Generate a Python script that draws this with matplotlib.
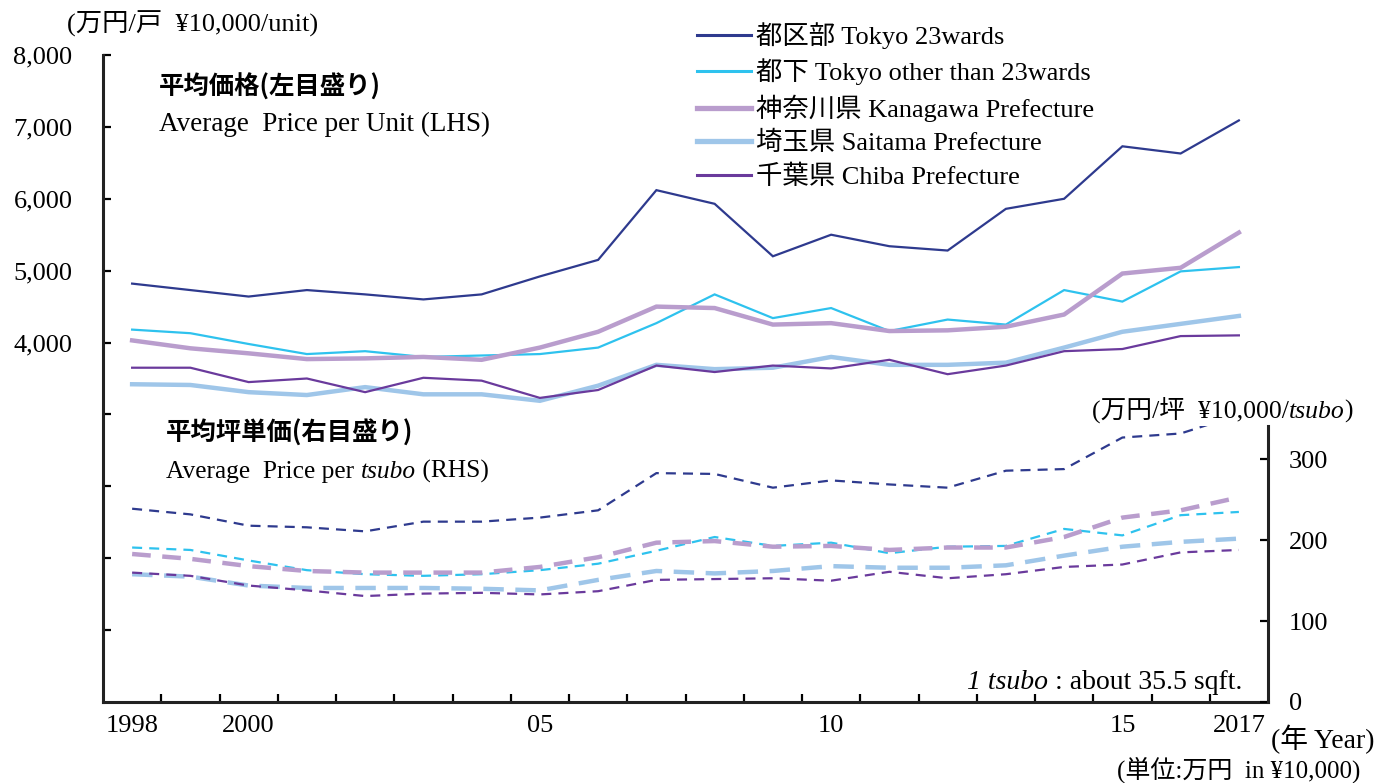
import matplotlib
matplotlib.use("Agg")
import matplotlib.pyplot as plt
import numpy as np
from matplotlib.patches import Rectangle
from matplotlib.lines import Line2D

plt.rcParams["font.family"] = ["Liberation Serif", "Noto Sans CJK JP"]

# ---- data -------------------------------------------------------------
years = list(range(1998, 2018))
shown_year_labels = {1998: "1998", 2000: "2000", 2005: "05", 2010: "10", 2015: "15", 2017: "2017"}

region_labels = [
    "都区部 Tokyo 23wards",
    "都下 Tokyo other than 23wards",
    "神奈川県 Kanagawa Prefecture",
    "埼玉県 Saitama Prefecture",
    "千葉県 Chiba Prefecture",
]

# average price per unit (万円/戸)
unit_tokyo23 = [4820, 4730, 4640, 4730, 4670, 4600, 4670, 4920, 5150, 6120,
                5930, 5200, 5500, 5340, 5280, 5860, 6000, 6730, 6630, 7090]
unit_tokyo_other = [4180, 4130, 3980, 3840, 3880, 3800, 3820, 3840, 3930, 4270,
                    4670, 4340, 4480, 4160, 4320, 4250, 4730, 4570, 4990, 5050]
unit_kanagawa = [4030, 3920, 3850, 3770, 3780, 3800, 3760, 3930, 4150, 4500,
                 4480, 4250, 4270, 4160, 4170, 4220, 4390, 4960, 5040, 5530]
unit_saitama = [3420, 3410, 3310, 3270, 3380, 3280, 3280, 3190, 3400, 3690,
                3630, 3650, 3800, 3690, 3690, 3720, 3930, 4150, 4260, 4370]
unit_chiba = [3650, 3650, 3450, 3500, 3310, 3510, 3470, 3230, 3340, 3680,
              3590, 3680, 3640, 3760, 3560, 3680, 3880, 3910, 4090, 4100]

# average price per tsubo (万円/坪)
tsubo_tokyo23 = [239, 232, 218, 216, 211, 223, 223, 228, 237, 283,
                 282, 265, 274, 269, 265, 286, 288, 327, 332, 355]
tsubo_tokyo_other = [191, 188, 175, 163, 158, 156, 158, 163, 171, 187,
                     204, 193, 197, 184, 192, 193, 214, 206, 231, 235]
tsubo_kanagawa = [183, 177, 168, 162, 160, 160, 160, 167, 179, 197,
                  199, 192, 193, 188, 191, 191, 204, 228, 237, 253]
tsubo_saitama = [158, 155, 144, 141, 141, 141, 140, 138, 151, 162,
                 159, 162, 168, 166, 166, 169, 181, 192, 198, 202]
tsubo_chiba = [160, 156, 144, 138, 131, 134, 135, 133, 137, 151,
               152, 153, 150, 161, 153, 158, 167, 170, 185, 188]

left_ticks = [0, 1000, 2000, 3000, 4000, 5000, 6000, 7000, 8000]
left_tick_labels = ["", "", "", "", "4,000", "5,000", "6,000", "7,000", "8,000"]
right_ticks = [0, 100, 200, 300]
right_tick_labels = ["0", "100", "200", "300"]

# ---- styling ----------------------------------------------------------
colors = ["#2E3A8E", "#2EC2EE", "#B99DCD", "#9FC6E9", "#6A3A9C"]
solid_widths = [1.6, 1.6, 3.2, 3.2, 1.6]
dash_patterns = [(0, (4.5, 3.2)), (0, (4.5, 3.2)), (0, (4.2, 2.6)),
                 (0, (4.6, 2.6)), (0, (4.5, 3.2))]

W, H = 1376, 783
fig = plt.figure(figsize=(W / 100, H / 100), dpi=100)


def fx(px):
    return px / W


def fy(py):
    return 1 - py / H


ax_l, ax_r, ax_t, ax_b = 103, 1268, 55, 702
ax = fig.add_axes([fx(ax_l), fy(ax_b), fx(ax_r - ax_l), fy(ax_t) - fy(ax_b)])
x = np.arange(len(years))

unit_series = [unit_tokyo23, unit_tokyo_other, unit_kanagawa, unit_saitama, unit_chiba]
tsubo_series = [tsubo_tokyo23, tsubo_tokyo_other, tsubo_kanagawa, tsubo_saitama, tsubo_chiba]

for vals, c, lw in zip(unit_series, colors, solid_widths):
    ax.plot(x, vals, color=c, lw=lw, solid_joinstyle="miter")

ax.set_xlim(-0.5, len(years) - 0.5)
ax.set_ylim(-1000, 8000)
ax.set_yticks(left_ticks)
ax.set_yticklabels(left_tick_labels)

# tick marks sit between categories, labels under selected years
ax.set_xticks(np.arange(0.5, len(years) - 1, 1.0))
ax.set_xticklabels([])
lab_pos = [years.index(y) for y in shown_year_labels]
ax.set_xticks(lab_pos, minor=True)
ax.set_xticklabels(list(shown_year_labels.values()), minor=True)
ax.tick_params(axis="x", which="major", direction="in", length=6, width=1.6)
ax.tick_params(axis="x", which="minor", length=0, pad=9, labelsize=19)
ax.tick_params(axis="y", direction="in", length=6, width=1.6, pad=22, labelsize=19)

for side in ("top", "right"):
    ax.spines[side].set_visible(False)
for side in ("left", "bottom"):
    ax.spines[side].set_linewidth(2.2)
    ax.spines[side].set_color("#222222")

ax2 = ax.twinx()
ax2.set_ylim(0, 800)
clip = Rectangle((-0.5, 0), len(years), 341, transform=ax2.transData)
for vals, c, lw, ls in zip(tsubo_series, colors, solid_widths, dash_patterns):
    ln, = ax2.plot(x, vals, color=c, lw=lw, linestyle=ls)
    ln.set_clip_path(clip)
ax2.set_yticks(right_ticks)
ax2.set_yticklabels(right_tick_labels)
ax2.tick_params(axis="y", direction="in", length=6, width=1.6, pad=15, labelsize=19)
for side in ("top", "left", "bottom"):
    ax2.spines[side].set_visible(False)
ax2.spines["right"].set_bounds(0, 341)
ax2.spines["right"].set_linewidth(2.2)
ax2.spines["right"].set_color("#222222")

# legend
handles = [Line2D([], [], color=c, lw=lw + 0.6) for c, lw in zip(colors, solid_widths)]
fig.legend(handles, region_labels, loc="upper left",
           bbox_to_anchor=(fx(697), fy(22.5)), frameon=False, fontsize=19,
           handlelength=2.05, handletextpad=0.2, labelspacing=0.35,
           borderpad=0, borderaxespad=0)


# ---- text helpers -----------------------------------------------------
def chain(x0, y0, parts, size, align="left", **kw):
    """Draw consecutive text segments, each with its own font style."""
    order = parts if align == "left" else parts[::-1]
    last = None
    for s, style in order:
        if last is None:
            last = fig.text(fx(x0), fy(y0), s, fontsize=size, style=style,
                            ha=align, va="bottom", **kw)
        else:
            xy = (1, 0) if align == "left" else (0, 0)
            last = ax.annotate(s, xy=xy, xycoords=last, fontsize=size, style=style,
                               ha=align, va="bottom", annotation_clip=False, **kw)
    return last


# unit captions
fig.text(fx(67), fy(24), "(万円/戸  ¥10,000/unit)", fontsize=19, va="center")
chain(1092, 423, [("(万円/坪  ¥10,000/", "normal"), ("tsubo", "italic"), (")", "normal")], 18.5)
fig.text(fx(1271), fy(739), "(年 Year)", fontsize=20, va="center")
fig.text(fx(1117), fy(770), "(単位:万円  in ¥10,000)", fontsize=18, va="center")

# series group annotations
fig.text(fx(159), fy(87), "平均価格(左目盛り)", fontsize=18.3, va="center",
         family=["Noto Sans CJK JP"], weight="bold")
fig.text(fx(159), fy(124), "Average  Price per Unit (LHS)", fontsize=19.5, va="center")
fig.text(fx(166), fy(433), "平均坪単価(右目盛り)", fontsize=18.3, va="center",
         family=["Noto Sans CJK JP"], weight="bold")
chain(166, 483, [("Average  Price per ", "normal"), ("tsubo", "italic"), (" (RHS)", "normal")], 18.3)
chain(1242, 695, [("1 tsubo", "italic"), (" : about 35.5 sqft.", "normal")], 20, align="right")

fig.savefig("out.png", dpi=100)
